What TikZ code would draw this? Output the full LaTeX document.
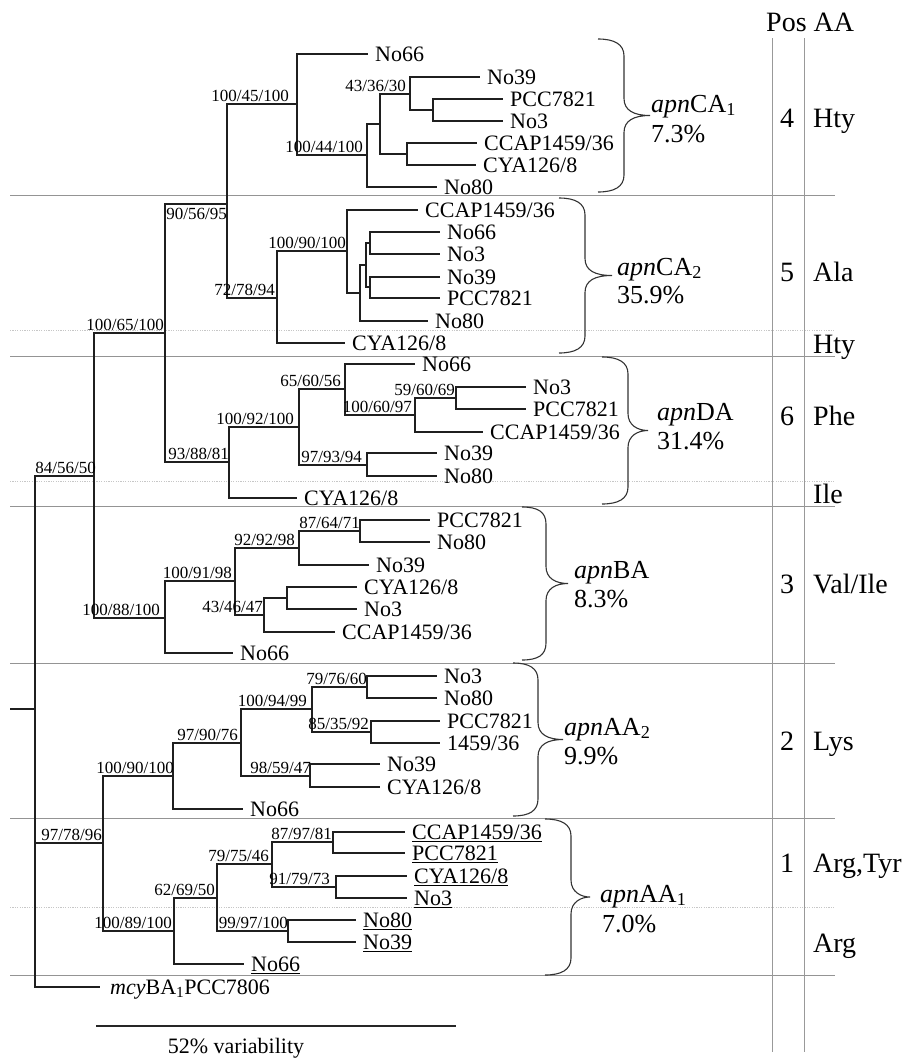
\documentclass[tikz,border=0pt]{standalone}
\usepackage{fontspec}
\setmainfont{Liberation Serif}
\newcommand\clbr[5]{%
 \pgfmathsetmacro\brmid{(#2+#3)/2}%
 \draw[brc] (#1,#2) .. controls ({#1+16},#2) and (#4,{#2+5}) .. (#4,{#2+17}) -- (#4,{\brmid-17}) .. controls (#4,{\brmid-5}) and ({#4+10},\brmid) .. (#5,\brmid) .. controls ({#4+10},\brmid) and (#4,{\brmid+5}) .. (#4,{\brmid+17}) -- (#4,{#3-17}) .. controls (#4,{#3-5}) and ({#1+16},#3) .. (#1,#3);}
\newcommand\lf[4]{\coordinate (#1) at (#2,#3); \node[leaflab] (#1txt) at (#1) {#4};}
\newcommand\bs[3]{\node[bootlab, xshift=#2] (#1lab) at (#1) {#3};}
\tikzset{
 br/.style={line width=1.3pt, draw=black!88},
 sepline/.style={line width=0.9pt, draw=black!42},
 sepdot/.style={line width=0.9pt, draw=black!22, dash pattern=on 1.2pt off 1.2pt},
 colline/.style={line width=0.9pt, draw=black!40},
 bootlab/.style={anchor=base east, inner sep=0pt, font=\fontsize{17}{17}\selectfont, yshift=3pt},
 leaflab/.style={anchor=base west, inner sep=0pt, font=\fontsize{22}{22}\selectfont, xshift=7pt, yshift=-7.5pt},
 grplab/.style={anchor=base west, inner sep=0pt, font=\fontsize{26}{26}\selectfont},
 rtlab/.style={anchor=base, inner sep=0pt, font=\fontsize{28}{28}\selectfont},
 rtwlab/.style={anchor=base west, inner sep=0pt, font=\fontsize{28}{28}\selectfont},
 brc/.style={line width=1.1pt, draw=black!80},
}
\begin{document}
\begin{tikzpicture}[x=1pt,y=-1pt]
\useasboundingbox (0,0) rectangle (909,1058);
% separators
\foreach \yy in {195,356,506,663,818,975} \draw[sepline] (10,\yy) -- (835,\yy);
\foreach \yy in {330,481,907} \draw[sepdot] (10,\yy) -- (835,\yy);
\draw[colline] (772,38) -- (772,1052);
\draw[colline] (804,38) -- (804,1052);
% internal nodes
\coordinate (rootL) at (10,709);
\coordinate (T) at (35,709);
\coordinate (S) at (94,476);
\coordinate (R) at (165,333);
\coordinate (Q0) at (227,204);
\coordinate (P1) at (297,104);
\coordinate (P2) at (367,155);
\coordinate (P3) at (380,124);
\coordinate (P4) at (410,94);
\coordinate (P5) at (433,110);
\coordinate (P6) at (407,154);
\coordinate (Q1) at (277,298);
\coordinate (Q2) at (347,251);
\coordinate (Q3) at (360,293);
\coordinate (Q4) at (366,265);
\coordinate (Q5) at (370,243);
\coordinate (Q6) at (370,287);
\coordinate (D0) at (229,462);
\coordinate (D1) at (299,427);
\coordinate (D2) at (345,389);
\coordinate (D3) at (367,465);
\coordinate (D4) at (415,415);
\coordinate (D5) at (456,398);
\coordinate (B0) at (165,618);
\coordinate (B1) at (235,581);
\coordinate (B2) at (299,548);
\coordinate (B3) at (264,615);
\coordinate (B4) at (360,531);
\coordinate (B5) at (287,598);
\coordinate (A0) at (103,843);
\coordinate (A1) at (173,776);
\coordinate (A2) at (241,743);
\coordinate (A3) at (312,709);
\coordinate (A3a) at (367,687);
\coordinate (A3b) at (371,732);
\coordinate (A4) at (310,776);
\coordinate (A5) at (174,931);
\coordinate (A6) at (217,898);
\coordinate (A7) at (272,864);
\coordinate (A8) at (288,931);
\coordinate (A9) at (333,842);
\coordinate (A10) at (336,887);
% leaves
\lf{caa}{368}{54}{No66}
\lf{cab}{480}{77}{No39}
\lf{cac}{503}{99}{PCC7821}
\lf{cad}{503}{121}{No3}
\lf{cae}{477}{143}{CCAP1459/36}
\lf{caf}{476}{165}{CYA126/8}
\lf{cag}{437}{187}{No80}
\lf{cba}{418}{210}{CCAP1459/36}
\lf{cbb}{440}{232}{No66}
\lf{cbc}{440}{254}{No3}
\lf{cbd}{440}{277}{No39}
\lf{cbe}{440}{298}{PCC7821}
\lf{cbf}{428}{321}{No80}
\lf{cbg}{345}{343}{CYA126/8}
\lf{daa}{415}{364}{No66}
\lf{dab}{526}{387}{No3}
\lf{dac}{526}{409}{PCC7821}
\lf{dad}{483}{432}{CCAP1459/36}
\lf{dae}{437}{453}{No39}
\lf{daf}{437}{476}{No80}
\lf{dag}{297}{498}{CYA126/8}
\lf{baa}{430}{520}{PCC7821}
\lf{bab}{430}{542}{No80}
\lf{bac}{369}{565}{No39}
\lf{bad}{357}{587}{CYA126/8}
\lf{bae}{357}{609}{No3}
\lf{baf}{335}{632}{CCAP1459/36}
\lf{bag}{233}{653}{No66}
\lf{aba}{437}{676}{No3}
\lf{abb}{437}{698}{No80}
\lf{abc}{440}{721}{PCC7821}
\lf{abd}{440}{743}{1459/36}
\lf{abe}{380}{764}{No39}
\lf{abf}{380}{787}{CYA126/8}
\lf{abg}{243}{809}{No66}
\lf{aaa}{405}{832}{\underline{CCAP1459/36}}
\lf{aab}{405}{853}{\underline{PCC7821}}
\lf{aac}{407}{876}{\underline{CYA126/8}}
\lf{aad}{407}{898}{\underline{No3}}
\lf{aae}{356}{920}{\underline{No80}}
\lf{aaf}{356}{942}{\underline{No39}}
\lf{aag}{244}{964}{\underline{No66}}
\coordinate (mcy) at (100,987);
\node[leaflab, xshift=3pt] (mcytxt) at (mcy) {\textit{mcy}BA\textsubscript{1}PCC7806};
% branches
\draw[br] (rootL) -- (T);
\draw[br] (T) |- (S); \draw[br] (T) |- (A0); \draw[br] (T) |- (mcy);
\draw[br] (S) |- (R); \draw[br] (S) |- (B0);
\draw[br] (R) |- (Q0); \draw[br] (R) |- (D0);
\draw[br] (Q0) |- (P1); \draw[br] (Q0) |- (Q1);
\draw[br] (P1) |- (caa); \draw[br] (P1) |- (P2);
\draw[br] (P2) |- (P3); \draw[br] (P2) |- (cag);
\draw[br] (P3) |- (P4); \draw[br] (P3) |- (P6);
\draw[br] (P4) |- (cab); \draw[br] (P4) |- (P5);
\draw[br] (P5) |- (cac); \draw[br] (P5) |- (cad);
\draw[br] (P6) |- (cae); \draw[br] (P6) |- (caf);
\draw[br] (Q1) |- (Q2); \draw[br] (Q1) |- (cbg);
\draw[br] (Q2) |- (cba); \draw[br] (Q2) |- (Q3);
\draw[br] (Q3) |- (Q4); \draw[br] (Q3) |- (cbf);
\draw[br] (Q4) |- (Q5); \draw[br] (Q4) |- (Q6);
\draw[br] (Q5) |- (cbb); \draw[br] (Q5) |- (cbc);
\draw[br] (Q6) |- (cbd); \draw[br] (Q6) |- (cbe);
\draw[br] (D0) |- (D1); \draw[br] (D0) |- (dag);
\draw[br] (D1) |- (D2); \draw[br] (D1) |- (D3);
\draw[br] (D2) |- (daa); \draw[br] (D2) |- (D4);
\draw[br] (D4) |- (D5); \draw[br] (D4) |- (dad);
\draw[br] (D5) |- (dab); \draw[br] (D5) |- (dac);
\draw[br] (D3) |- (dae); \draw[br] (D3) |- (daf);
\draw[br] (B0) |- (B1); \draw[br] (B0) |- (bag);
\draw[br] (B1) |- (B2); \draw[br] (B1) |- (B3);
\draw[br] (B2) |- (B4); \draw[br] (B2) |- (bac);
\draw[br] (B4) |- (baa); \draw[br] (B4) |- (bab);
\draw[br] (B3) |- (B5); \draw[br] (B3) |- (baf);
\draw[br] (B5) |- (bad); \draw[br] (B5) |- (bae);
\draw[br] (A0) |- (A1); \draw[br] (A0) |- (A5);
\draw[br] (A1) |- (A2); \draw[br] (A1) |- (abg);
\draw[br] (A2) |- (A3); \draw[br] (A2) |- (A4);
\draw[br] (A3) |- (A3a); \draw[br] (A3) |- (A3b);
\draw[br] (A3a) |- (aba); \draw[br] (A3a) |- (abb);
\draw[br] (A3b) |- (abc); \draw[br] (A3b) |- (abd);
\draw[br] (A4) |- (abe); \draw[br] (A4) |- (abf);
\draw[br] (A5) |- (A6); \draw[br] (A5) |- (aag);
\draw[br] (A6) |- (A7); \draw[br] (A6) |- (A8);
\draw[br] (A7) |- (A9); \draw[br] (A7) |- (A10);
\draw[br] (A9) |- (aaa); \draw[br] (A9) |- (aab);
\draw[br] (A10) |- (aac); \draw[br] (A10) |- (aad);
\draw[br] (A8) |- (aae); \draw[br] (A8) |- (aaf);
% bootstrap labels
\bs{P1}{-8pt}{100/45/100}
\bs{P2}{-4pt}{100/44/100}
\bs{P4}{-4pt}{43/36/30}
\node[anchor=north east, inner sep=0pt, font=\fontsize{17}{17}\selectfont, yshift=-4pt] (Q0lab) at (Q0) {90/56/95};
\bs{Q1}{-2pt}{72/78/94}
\bs{Q2}{-1pt}{100/90/100}
\bs{R}{-1pt}{100/65/100}
\bs{D0}{0pt}{93/88/81}
\bs{D1}{-5pt}{100/92/100}
\bs{D2}{-4pt}{65/60/56}
\bs{D4}{-3pt}{100/60/97}
\bs{D5}{-1pt}{59/60/69}
\bs{D3}{-5pt}{97/93/94}
\bs{S}{2pt}{84/56/50}
\bs{B0}{-5pt}{100/88/100}
\bs{B1}{-3pt}{100/91/98}
\bs{B2}{-4pt}{92/92/98}
\bs{B4}{0pt}{87/64/71}
\bs{B3}{-1pt}{43/46/47}
\bs{A0}{-1pt}{97/78/96}
\bs{A1}{1pt}{100/90/100}
\bs{A2}{-3pt}{97/90/76}
\bs{A3}{-5pt}{100/94/99}
\bs{A3a}{0pt}{79/76/60}
\bs{A3b}{-2pt}{85/35/92}
\bs{A4}{1pt}{98/59/47}
\bs{A5}{-2pt}{100/89/100}
\bs{A6}{-2pt}{62/69/50}
\bs{A7}{-3pt}{79/75/46}
\bs{A9}{-1pt}{87/97/81}
\bs{A10}{-6pt}{91/79/73}
\bs{A8}{0pt}{99/97/100}
% braces
\clbr{598}{39}{192}{624}{650}
\clbr{559}{198}{353}{585}{612}
\clbr{602}{357}{504}{628}{648}
\clbr{522}{507}{660}{546}{568}
\clbr{513}{663}{816}{538}{563}
\clbr{545}{819}{975}{571}{590}
% group labels
\node[grplab] (g1) at (651,112) {\textit{apn}CA\textsubscript{1}};
\node[grplab] (g1p) at (651,142) {7.3\%};
\node[grplab] (g2) at (617,275) {\textit{apn}CA\textsubscript{2}};
\node[grplab] (g2p) at (617,303) {35.9\%};
\node[grplab] (g3) at (657,420) {\textit{apn}DA};
\node[grplab] (g3p) at (657,449) {31.4\%};
\node[grplab] (g4) at (574,578) {\textit{apn}BA};
\node[grplab] (g4p) at (574,607) {8.3\%};
\node[grplab] (g5) at (564,735) {\textit{apn}AA\textsubscript{2}};
\node[grplab] (g5p) at (564,764) {9.9\%};
\node[grplab] (g6) at (600,902) {\textit{apn}AA\textsubscript{1}};
\node[grplab] (g6p) at (602,932) {7.0\%};
% right columns
\node[rtwlab] (hdr) at (766,31) {Pos AA};
\node[rtlab] (p4) at (787,127) {4}; \node[rtwlab] (a4) at (813,127) {Hty};
\node[rtlab] (p5) at (787,281) {5}; \node[rtwlab] (a5) at (813,281) {Ala};
\node[rtwlab] (a5b) at (813,353) {Hty};
\node[rtlab] (p6) at (787,425) {6}; \node[rtwlab] (a6) at (813,425) {Phe};
\node[rtwlab] (a6b) at (813,503) {Ile};
\node[rtlab] (p3) at (787,593) {3}; \node[rtwlab] (a3) at (813,593) {Val/Ile};
\node[rtlab] (p2) at (787,750) {2}; \node[rtwlab] (a2) at (813,750) {Lys};
\node[rtlab] (p1) at (787,872) {1}; \node[rtwlab] (a1) at (813,872) {Arg,Tyr};
\node[rtwlab] (a1b) at (813,952) {Arg};
% scale bar
\coordinate (sb1) at (96,1026);
\coordinate (sb2) at (456,1026);
\draw[line width=1.6pt, draw=black!85] (sb1) -- (sb2);
\node[anchor=base, inner sep=0pt, font=\fontsize{22}{22}\selectfont] (sbl) at (236,1053) {52\% variability};
\end{tikzpicture}
\end{document}
